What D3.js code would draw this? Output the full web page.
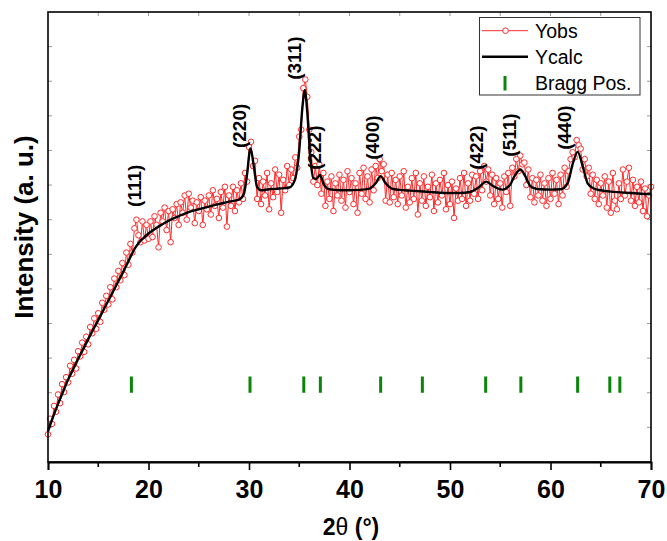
<!DOCTYPE html>
<html><head><meta charset="utf-8">
<script src="https://cdn.jsdelivr.net/npm/d3@7"></script>
<style>body{margin:0;background:#fff}svg{display:block}</style>
</head><body>
<script>
// ---- data ----
const obsStart = 10, obsStep = 0.2;
const yobs = [
0.80,1.25,1.10,1.62,1.45,1.95,1.70,2.25,2.02,2.45,2.30,2.78,2.55,2.95,2.70,3.20,3.05,3.45,3.18,3.62,
3.40,3.90,3.72,4.15,3.85,4.30,4.05,4.60,4.40,4.80,4.55,5.05,4.70,5.30,5.05,5.52,5.25,5.75,5.40,6.05,
5.70,6.30,6.05,6.75,7.00,6.55,6.35,6.95,6.40,6.85,6.45,6.95,6.50,7.10,6.85,6.20,7.20,6.95,7.35,6.70,
7.25,6.35,7.30,7.05,7.45,6.85,7.50,7.20,7.70,7.00,7.75,7.35,7.55,6.90,7.50,7.25,7.65,6.85,7.55,7.30,
7.70,7.15,7.85,7.40,7.60,7.05,7.80,7.35,7.95,6.80,7.70,7.40,7.95,7.25,7.85,7.50,8.05,7.60,8.35,8.10,
9.10,9.25,8.55,8.70,7.60,8.20,7.45,8.10,7.70,8.35,7.30,8.05,7.65,8.45,7.80,8.30,7.20,8.15,7.85,8.55,
8.00,8.45,8.20,8.80,8.50,9.40,9.60,10.80,11.05,10.55,9.60,8.95,8.10,8.55,8.00,8.60,7.75,8.35,7.40,8.10,
7.60,8.25,7.25,8.05,7.70,8.30,7.55,8.15,7.35,8.40,7.80,8.20,7.45,8.05,7.20,8.35,7.75,8.50,7.60,8.25,
7.50,8.45,7.85,8.55,8.20,8.75,8.40,8.60,7.55,8.30,7.50,8.35,7.65,8.15,7.45,8.25,7.70,8.40,7.35,7.95,
7.50,8.20,7.60,8.35,7.15,8.05,7.55,8.25,7.40,7.95,7.65,8.30,7.25,8.05,7.50,8.15,7.70,8.35,7.30,8.00,
7.45,8.10,7.05,7.90,7.55,8.20,7.60,8.35,7.40,8.05,7.55,8.30,7.75,8.25,7.60,8.40,7.85,8.55,8.10,8.45,
7.70,8.30,7.45,8.20,7.60,8.05,7.35,8.25,7.80,8.35,7.40,8.50,8.25,8.75,8.40,8.85,8.60,8.65,8.00,8.45,
7.65,8.20,7.50,8.15,7.70,8.30,7.55,8.05,7.40,8.20,7.60,8.35,7.75,8.15,7.45,8.30,7.70,8.50,7.95,8.40,
8.75,8.95,8.80,9.30,9.15,9.05,8.45,8.75,8.25,8.50,7.75,8.30,7.60,8.15,7.45,8.05,7.70,8.25,7.35,8.10,
7.20,8.35,7.55,7.30,8.05,7.60,8.45,7.70,8.10,8.50,7.55,8.15,7.40,7.95,7.50,8.10,7.25,7.90,7.10,7.70,
7.95
];
const calcX = [10,10.5,11,11.5,12,12.5,13,13.5,14,14.5,15,15.5,16,16.5,17,17.5,18,18.5,19,19.5,20,21,22,23,24,25,26,27,28,29,29.5,29.8,30.15,30.5,30.8,31.2,32,33,34,34.5,35,35.3,35.55,35.8,36.1,36.4,36.7,37.05,37.4,37.8,38.5,39,40,41,42,42.6,43.1,43.6,44.2,45,46,47,48,49,50,51,52,52.8,53.6,54.3,55.2,55.9,56.5,57,57.5,58,58.5,59,60,61,61.7,62.2,62.7,63.2,63.7,64.3,65,66,67,68,69,70];
const calcY = [0.89,1.30,1.68,2.03,2.38,2.68,2.98,3.26,3.55,3.83,4.10,4.38,4.66,4.94,5.22,5.50,5.80,6.10,6.32,6.47,6.60,6.80,6.97,7.10,7.22,7.30,7.38,7.45,7.52,7.58,7.75,8.30,9.06,8.50,7.95,7.85,7.88,7.90,7.93,8.10,9.00,10.20,10.74,10.10,8.80,8.20,8.18,8.29,8.05,7.90,7.86,7.85,7.85,7.86,7.90,8.05,8.26,8.05,7.90,7.86,7.84,7.82,7.80,7.78,7.77,7.77,7.80,7.92,8.10,7.97,7.87,7.98,8.30,8.45,8.25,7.97,7.90,7.88,7.87,7.88,8.05,8.60,8.96,8.55,8.05,7.90,7.85,7.81,7.79,7.77,7.75,7.74];
const braggPos = [18.3,30.1,35.45,37.1,43.1,47.25,53.55,57.05,62.7,65.9,66.9];
const peakLabels = ["(111)","(220)","(311)","(222)","(400)","(422)","(511)","(440)"];
const peakLabelX = [19.3,29.75,35.2,37.2,42.95,53.3,56.6,62.05];
const peakLabelY = [7.37,9.07,11.04,8.44,8.73,8.44,8.82,9.02];
const xTicks = [10,20,30,40,50,60,70];
const legendItems = ["Yobs","Ycalc","Bragg Pos."];

// ---- layout ----
const W = 667, H = 541;
const m = {l:48, t:12, r:16, b:79};
const iw = W - m.l - m.r, ih = H - m.t - m.b;
const svg = d3.select("body").append("svg").attr("width", W).attr("height", H);
const g = svg.append("g").attr("transform", `translate(${m.l},${m.t})`);
const x = d3.scaleLinear().domain([10,70]).range([0, iw]);
const y = d3.scaleLinear().domain([0,13]).range([ih, 0]);

const obs = yobs.map((v,i)=>({x: +(obsStart + i*obsStep).toFixed(2), y: v}));
const calc = calcX.map((v,i)=>({x: v, y: calcY[i]}));

// inner faint ticks on left / right / top
const faint = g.append("g").attr("stroke", "#9a9a9a").attr("stroke-width", 1);
d3.range(1,13).forEach(k=>{
  faint.append("line").attr("x1",0).attr("x2",4).attr("y1",y(k)).attr("y2",y(k));
  faint.append("line").attr("x1",iw-4).attr("x2",iw).attr("y1",y(k)).attr("y2",y(k));
});
d3.range(15,70,5).forEach(k=>{
  faint.append("line").attr("x1",x(k)).attr("x2",x(k)).attr("y1",0).attr("y2",4);
});

// Yobs
const lineObs = d3.line().x(d=>x(d.x)).y(d=>y(d.y));
g.append("path").datum(obs).attr("d", lineObs).attr("fill","none")
  .attr("stroke","#ff2a2a").attr("stroke-width",1);
g.append("g").selectAll("circle").data(obs).join("circle")
  .attr("cx", d=>x(d.x)).attr("cy", d=>y(d.y)).attr("r", 2.8)
  .attr("fill","#fff").attr("stroke","#ff2a2a").attr("stroke-width",1);

// Ycalc
const lineCalc = d3.line().x(d=>x(d.x)).y(d=>y(d.y)).curve(d3.curveMonotoneX);
g.append("path").datum(calc).attr("d", lineCalc).attr("fill","none")
  .attr("stroke","#000").attr("stroke-width",2.4).attr("stroke-linejoin","round");

// Bragg positions
g.append("g").selectAll("line").data(braggPos).join("line")
  .attr("x1", d=>x(d)).attr("x2", d=>x(d))
  .attr("y1", y(2.47)).attr("y2", y(2.0))
  .attr("stroke","#0a850a").attr("stroke-width",3);

// Peak labels
g.append("g").selectAll("text").data(peakLabels).join("text")
  .attr("transform", (d,i)=>`translate(${x(peakLabelX[i])},${y(peakLabelY[i])}) rotate(-90)`)
  .attr("font-family","Liberation Sans, Arial, sans-serif").attr("font-weight","bold")
  .attr("font-size",19).attr("fill","#000").text(d=>d);

// Frame
g.append("rect").attr("x",0).attr("y",0).attr("width",iw).attr("height",ih)
  .attr("fill","none").attr("stroke","#000").attr("stroke-width",1.6);

// X axis
const xAxis = g.append("g").attr("transform",`translate(0,${ih})`);
d3.range(15,70,10).forEach(k=>{
  xAxis.append("line").attr("x1",x(k)).attr("x2",x(k)).attr("y1",0).attr("y2",5)
    .attr("stroke","#000").attr("stroke-width",1.6);
});
xAxis.call(d3.axisBottom(x).tickValues(xTicks).tickSize(8).tickPadding(10).tickFormat(d3.format("d")));
xAxis.select(".domain").attr("stroke-width",1.8);
xAxis.selectAll(".tick line").attr("stroke-width",1.6);
xAxis.selectAll(".tick text").attr("font-family","Liberation Sans, Arial, sans-serif")
  .attr("font-weight","bold").attr("font-size",25).attr("fill","#000");

// Axis titles
const xt = svg.append("text").attr("x", 351).attr("y", 535).attr("text-anchor","middle")
  .attr("font-family","Liberation Sans, Arial, sans-serif").attr("font-weight","bold")
  .attr("font-size",23).attr("fill","#000");
xt.append("tspan").text("2");
xt.append("tspan").attr("font-weight","normal").text("θ");
xt.append("tspan").text(" (°)");
svg.append("text").attr("transform","translate(33,227) rotate(-90)").attr("text-anchor","middle")
  .attr("font-family","Liberation Sans, Arial, sans-serif").attr("font-weight","bold")
  .attr("font-size",26).attr("fill","#000").text("Intensity (a. u.)");

// Legend
const lg = svg.append("g");
lg.append("rect").attr("x",479.5).attr("y",17.5).attr("width",160.5).attr("height",77.5)
  .attr("fill","#fff").attr("stroke","#333").attr("stroke-width",1);
const ly = [30.7, 56.7, 83];
lg.append("line").attr("x1",482).attr("x2",528).attr("y1",ly[0]).attr("y2",ly[0])
  .attr("stroke","#ff2a2a").attr("stroke-width",1);
lg.append("circle").attr("cx",505.5).attr("cy",ly[0]).attr("r",2.8).attr("fill","#fff")
  .attr("stroke","#ff2a2a").attr("stroke-width",1);
lg.append("line").attr("x1",482).attr("x2",528).attr("y1",ly[1]).attr("y2",ly[1])
  .attr("stroke","#000").attr("stroke-width",2.4);
lg.append("line").attr("x1",505).attr("x2",505).attr("y1",76).attr("y2",90.5)
  .attr("stroke","#0a850a").attr("stroke-width",3);
lg.selectAll("text.li").data(legendItems).join("text").attr("class","li")
  .attr("x",535).attr("y",(d,i)=>ly[i]+7)
  .attr("font-family","Liberation Sans, Arial, sans-serif").attr("font-size",19.5)
  .attr("fill","#000").text(d=>d);
</script>
</body></html>
